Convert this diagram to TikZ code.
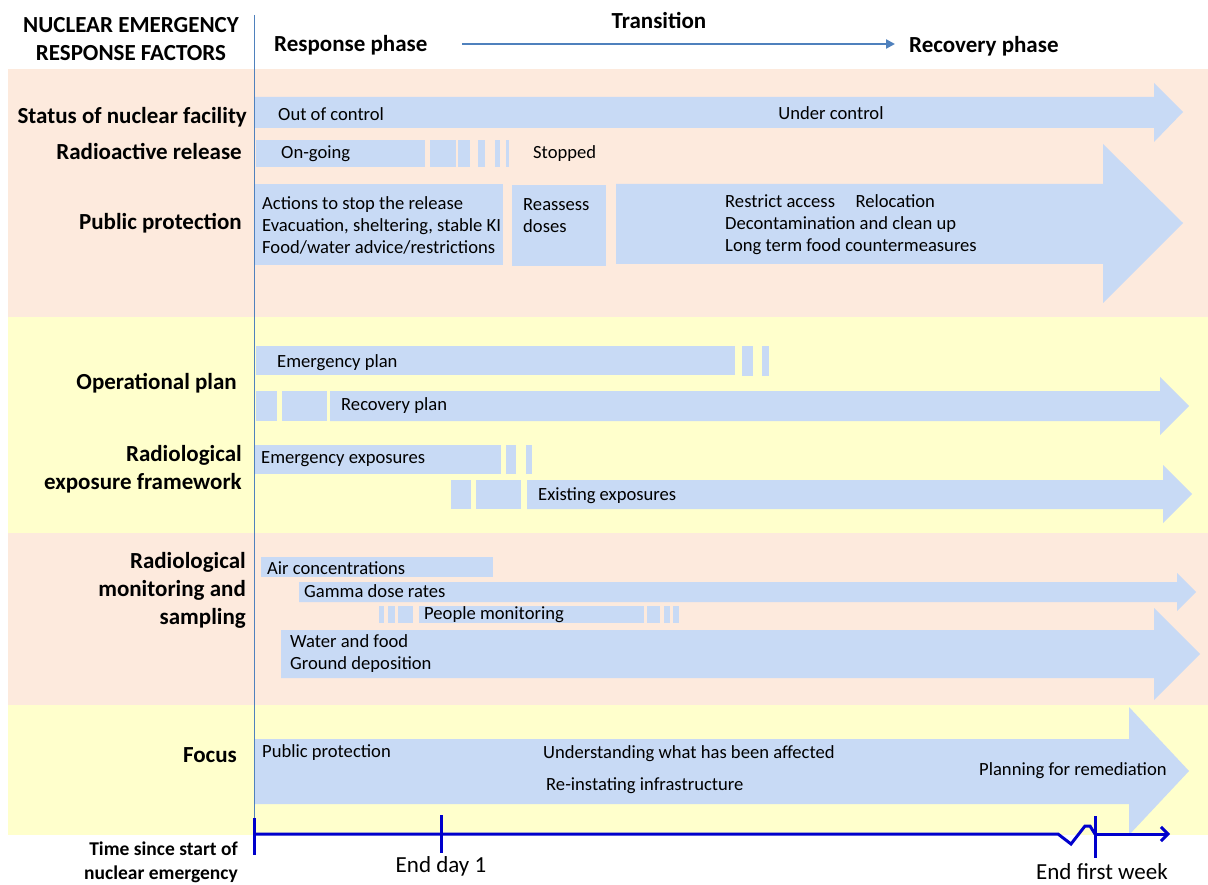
\documentclass[tikz,border=0pt]{standalone}
\usepackage{fontspec}
\setmainfont{Carlito}
\usetikzlibrary{arrows.meta}
\definecolor{salmon}{HTML}{FDEADD}
\definecolor{lyellow}{HTML}{FFFFCC}
\definecolor{barblue}{HTML}{C8DAF5}
\definecolor{steel}{HTML}{4F81BD}
\definecolor{axisblue}{HTML}{0000CC}
\begin{document}
\begin{tikzpicture}[x=1pt,y=-1pt,
  bar/.style={fill=barblue},
  lab/.style={font=\bfseries\fontsize{23}{28}\selectfont, anchor=east, align=right, inner sep=0pt},
  head/.style={font=\bfseries\fontsize{23}{28}\selectfont, inner sep=0pt},
  txt/.style={font=\fontsize{18.6}{22}\selectfont, anchor=west, align=left, inner sep=0pt},
  axis/.style={draw=axisblue, line width=3pt},
  tick/.style={draw=axisblue, line width=3pt}]
\useasboundingbox (0,0) rectangle (1208,885);
\fill[white] (0,0) rectangle (1208,885);
% bands
\fill[salmon] (8,69) rectangle (1208,317);
\fill[lyellow] (8,317) rectangle (1208,533);
\fill[salmon] (8,533) rectangle (1208,705);
\fill[lyellow] (8,705) rectangle (1208,835);
% header
\node[head, align=center] (hdr) at (131,39) {NUCLEAR EMERGENCY\\RESPONSE FACTORS};
\node[head, anchor=west] (resp) at (274,45) {Response phase};
\node[head] (trans) at (659,21) {Transition};
\node[head, anchor=west] (recov) at (909,46) {Recovery phase};
\coordinate (ts) at (462,44);
\coordinate (te) at (895,44);
\draw[steel, line width=2.5pt, -{Triangle[length=9pt,width=9pt]}] (ts) -- (te);
% row labels
\node[lab] (l1) at (247,117) {Status of nuclear facility};
\node[lab] (l2) at (242,152) {Radioactive release};
\node[lab] (l3) at (242,223) {Public protection};
\node[lab] (l4) at (237,383) {Operational plan};
\node[lab] (l5) at (242,469) {Radiological\\exposure framework};
\node[lab] (l6) at (246,590) {Radiological\\monitoring and\\sampling};
\node[lab] (l7) at (237,755) {Focus};
% status of nuclear facility
\fill[bar] (254,97) -- (1154,97) -- (1154,83) -- (1183,112) -- (1154,142) -- (1154,128) -- (254,128) -- cycle;
\node[txt] (oc) at (278,114) {Out of control};
\node[txt, anchor=center] (uc) at (831,113) {Under control};
% radioactive release
\fill[bar] (256,140) rectangle (425,167);
\fill[bar] (430,140) rectangle (456,167);
\fill[bar] (458,140) rectangle (470,167);
\fill[bar] (478,140) rectangle (485,167);
\fill[bar] (495,140) rectangle (500,167);
\fill[bar] (506,140) rectangle (509,167);
\node[txt] (og) at (281,154) {On-going};
\node[txt] (st) at (533,154) {Stopped};
% public protection
\fill[bar] (255,184) rectangle (503,265);
\node[txt] (pp1) at (262,225) {Actions to stop the release\\Evacuation, sheltering, stable KI\\Food/water advice/restrictions};
\fill[bar] (512,185) rectangle (606,266);
\node[txt] (rd) at (523,216) {Reassess\\doses};
\fill[bar] (616,184) -- (1103,184) -- (1103,144) -- (1183,223) -- (1103,303) -- (1103,264) -- (616,264) -- cycle;
\node[txt] (pp2) at (725,225) {Restrict access\hspace{1.1em}Relocation\\Decontamination and clean up\\Long term food countermeasures};
% operational plan
\fill[bar] (256,346) rectangle (735,375);
\fill[bar] (742,346) rectangle (753,376);
\fill[bar] (762,346) rectangle (769,376);
\node[txt] (ep) at (277,363) {Emergency plan};
\fill[bar] (256,391) rectangle (277,421);
\fill[bar] (282,391) rectangle (327,421);
\fill[bar] (330,391) -- (1160,391) -- (1160,377) -- (1189,406) -- (1160,435) -- (1160,421) -- (330,421) -- cycle;
\node[txt] (rp) at (341,406) {Recovery plan};
% exposures
\fill[bar] (255,445) rectangle (501,474);
\fill[bar] (506,445) rectangle (516,474);
\fill[bar] (526,445) rectangle (532,474);
\node[txt] (ee) at (261,459) {Emergency exposures};
\fill[bar] (451,480) rectangle (471,509);
\fill[bar] (476,480) rectangle (521,509);
\fill[bar] (527,480) -- (1163,480) -- (1163,465) -- (1192,494) -- (1163,523) -- (1163,509) -- (527,509) -- cycle;
\node[txt] (ex) at (538,496) {Existing exposures};
% monitoring
\fill[bar] (261,557) rectangle (493,577);
\node[txt] (ac) at (267,568) {Air concentrations};
\fill[bar] (299,582) -- (1177,582) -- (1177,573) -- (1196,592) -- (1177,611) -- (1177,602) -- (299,602) -- cycle;
\node[txt] (gd) at (304,591) {Gamma dose rates};
\fill[bar] (379,606) rectangle (384,623);
\fill[bar] (388,606) rectangle (395,623);
\fill[bar] (398,606) rectangle (413,623);
\fill[bar] (419,606) rectangle (644,623);
\fill[bar] (647,606) rectangle (660,623);
\fill[bar] (664,606) rectangle (670,623);
\fill[bar] (673,606) rectangle (679,623);
\node[txt] (pm) at (424,615) {People monitoring};
\fill[bar] (281,630) -- (1154,630) -- (1154,608) -- (1200,654) -- (1154,700) -- (1154,678) -- (281,678) -- cycle;
\node[txt] (wf) at (290,654) {Water and food\\Ground deposition};
% focus
\fill[bar] (254,739) -- (1129,739) -- (1129,707) -- (1189,771) -- (1129,835) -- (1129,804) -- (254,804) -- cycle;
\node[txt] (fpp) at (262,753) {Public protection};
\node[txt] (fu) at (543,754) {Understanding what has been affected};
\node[txt] (fr) at (546,786) {Re-instating infrastructure};
\node[txt] (fpl) at (979,771) {Planning for remediation};
% vertical divider
\coordinate (vtop) at (254,15);
\coordinate (vbot) at (254,834);
\draw[steel, line width=0.8pt] (vtop) -- (vbot);
% time axis
\coordinate (a0) at (254,834);
\coordinate (z1) at (1058,834);
\coordinate (z2) at (1071,844);
\coordinate (z3) at (1085,826);
\coordinate (z4) at (1090,826);
\coordinate (z5) at (1095,834);
\coordinate (aend) at (1170,834);
\draw[axis, line join=miter] (a0) -- (z1) -- (z2) -- (z3) -- (z4) -- (z5);
\draw[axis, -{Straight Barb[length=7pt,width=14pt]}] (z5) -- (aend);
\coordinate (k0a) at (254,818); \coordinate (k0b) at (254,855);
\coordinate (k1a) at (441,815); \coordinate (k1b) at (441,853);
\coordinate (k2a) at (1095,816); \coordinate (k2b) at (1095,858);
\draw[tick] (k0a) -- (k0b);
\draw[tick] (k1a) -- (k1b);
\draw[tick] (k2a) -- (k2b);
\node[font=\fontsize{23}{28}\selectfont, inner sep=0pt] (ed1) at (441,866) {End day 1};
\node[font=\fontsize{23}{28}\selectfont, inner sep=0pt] (efw) at (1102,872) {End first week};
\node[font=\bfseries\fontsize{19.5}{24}\selectfont, anchor=east, align=right, inner sep=0pt] (tsl) at (238,862) {Time since start of\\nuclear emergency};
\end{tikzpicture}
\end{document}
